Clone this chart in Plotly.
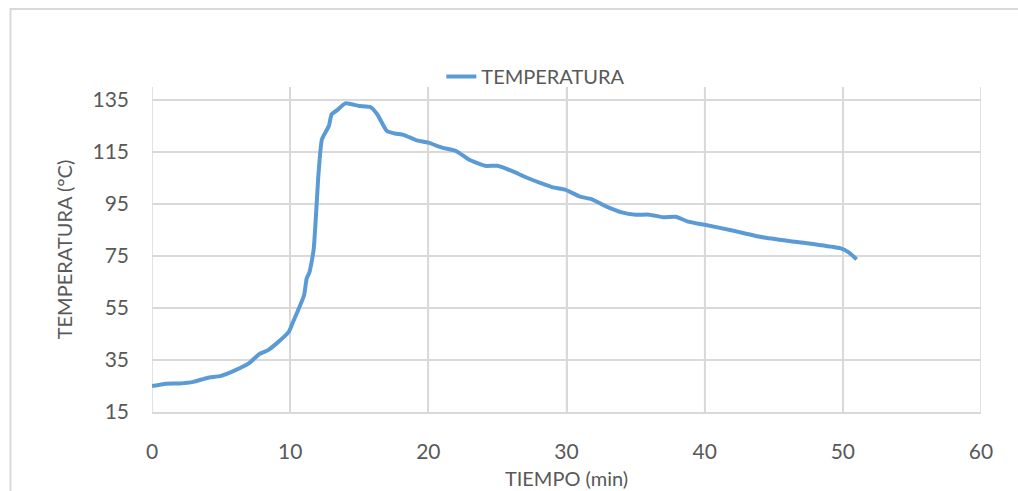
import plotly.graph_objects as go

# Tiempo (min) y temperatura (°C) registrados
tiempo = [0, 1, 2, 3, 4, 5, 6, 7, 7.8, 8.4, 9, 9.9, 10.2, 11.0, 11.2, 11.4, 11.7,
          11.9, 12.05, 12.3, 12.8, 13.0, 13.4, 14.0, 15.0, 15.8, 16.3, 17.0, 17.6,
          18.2, 19.1, 20.0, 21.0, 22.0, 23.0, 24.1, 25.0, 26.0, 27.1, 28.3, 29.0,
          29.9, 31.0, 31.8, 32.9, 34.0, 35.0, 36.0, 37.0, 37.9, 38.8, 40.0, 42.0,
          44.2, 46.2, 48.1, 49.8, 50.4, 51.0]
temperatura = [25.0, 25.9, 26.0, 26.6, 28.1, 28.9, 31.0, 33.7, 37.4, 38.8, 41.3,
               45.8, 49.5, 59.8, 66.5, 68.8, 77.5, 93.5, 106.5, 119.9, 125.0,
               129.5, 131.1, 133.7, 132.7, 132.3, 129.5, 123.1, 122.1, 121.6,
               119.6, 118.6, 116.7, 115.4, 111.9, 109.7, 109.7, 107.8, 105.2,
               102.7, 101.4, 100.5, 97.8, 96.9, 94.0, 91.8, 90.9, 90.9, 89.9,
               90.1, 88.2, 87.0, 84.8, 82.2, 80.7, 79.4, 78.0, 76.5, 73.7]

x_ticks = [0, 10, 20, 30, 40, 50, 60]
y_ticks = [15, 35, 55, 75, 95, 115, 135]

FONT = "Lato"
GRID = "#D9D9D9"
TEXT = "#595959"

fig = go.Figure()
fig.add_trace(go.Scatter(
    x=tiempo, y=temperatura, mode="lines", name="TEMPERATURA",
    line=dict(color="#5B9BD5", width=4, shape="spline", smoothing=0.5),
))

fig.update_layout(
    width=1018, height=491,
    margin=dict(l=152, r=37, t=87, b=79),
    paper_bgcolor="white", plot_bgcolor="white",
    font=dict(family=FONT, color=TEXT),
    showlegend=True,
    legend=dict(orientation="h", x=0.463, y=1.032, xanchor="center",
                yanchor="middle", font=dict(size=20, color=TEXT),
                bgcolor="rgba(0,0,0,0)"),
    xaxis=dict(range=[0, 60], tickvals=x_ticks, showgrid=True, gridcolor=GRID,
               gridwidth=1.5, zeroline=False, showline=True, linecolor=GRID,
               linewidth=1.5, ticks="", tickfont=dict(size=21, color=TEXT),
               ticklabelstandoff=20, automargin=False,
               title=dict(text="TIEMPO (min)", font=dict(size=20, color=TEXT),
                          standoff=10)),
    yaxis=dict(range=[15, 140], tickvals=y_ticks, showgrid=True, gridcolor=GRID,
               gridwidth=1.5, zeroline=False, showline=False, ticks="",
               tickfont=dict(size=21, color=TEXT), ticklabelstandoff=22,
               automargin=False,
               title=dict(text="TEMPERATURA (°C)", font=dict(size=20, color=TEXT),
                          standoff=14)),
    shapes=[
        # vertical gridlines reach the top of the plot area
        *[dict(type="line", xref="x", yref="paper", x0=v, x1=v, y0=0, y1=1,
               line=dict(color=GRID, width=1.5), layer="below") for v in x_ticks],
        # chart frame
        dict(type="rect", xref="paper", yref="paper", x0=-0.1707, x1=1.06,
             y0=-0.3, y1=1.24, line=dict(color=GRID, width=2), layer="below"),
    ],
)

fig.write_html("out.html")
